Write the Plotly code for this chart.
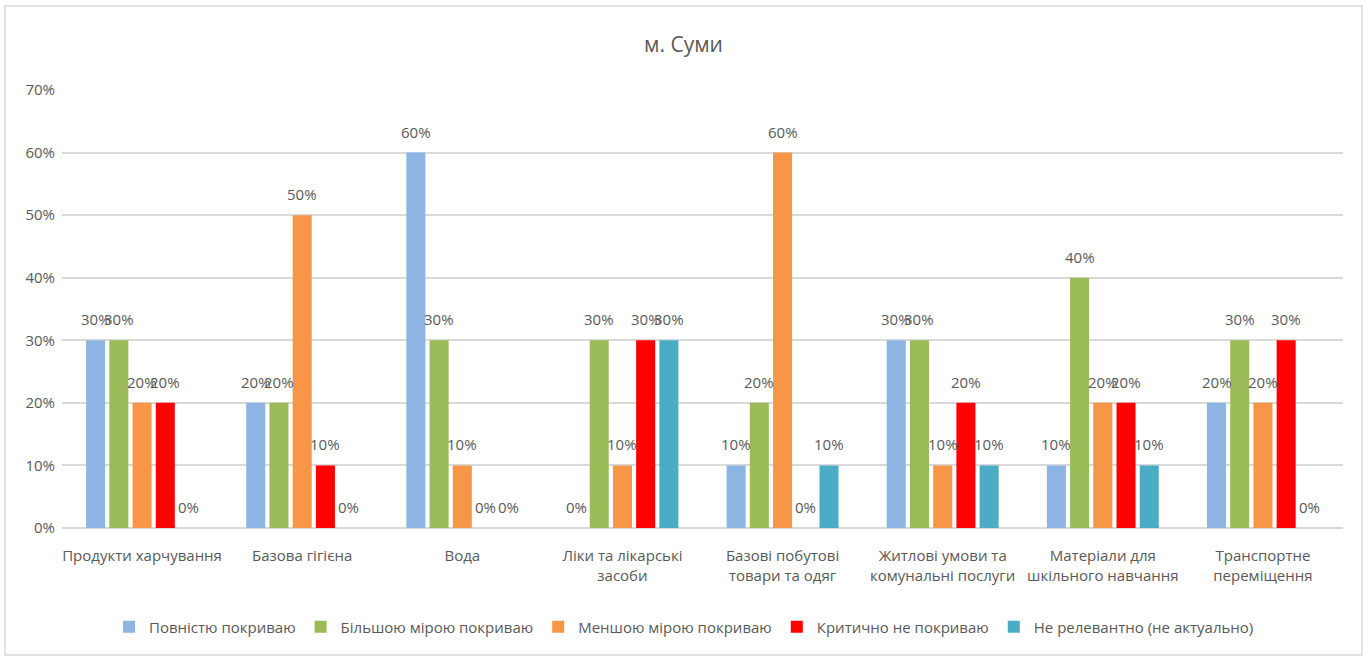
import plotly.graph_objects as go

categories = [
    "Продукти харчування",
    "Базова гігієна",
    "Вода",
    "Ліки та лікарські<br>засоби",
    "Базові побутові<br>товари та одяг",
    "Житлові умови та<br>комунальні послуги",
    "Матеріали для<br>шкільного навчання",
    "Транспортне<br>переміщення",
]

series_names = [
    "Повністю покриваю",
    "Більшою мірою покриваю",
    "Меншою мірою покриваю",
    "Критично не покриваю",
    "Не релевантно (не актуально)",
]

fully = [0.30, 0.20, 0.60, 0.00, 0.10, 0.30, 0.10, 0.20]
mostly = [0.30, 0.20, 0.30, 0.30, 0.20, 0.30, 0.40, 0.30]
less = [0.20, 0.50, 0.10, 0.10, 0.60, 0.10, 0.20, 0.20]
critical = [0.20, 0.10, 0.00, 0.30, 0.00, 0.20, 0.20, 0.30]
not_relevant = [0.00, 0.00, 0.00, 0.30, 0.10, 0.10, 0.10, 0.00]

colors = ["#8DB4E2", "#9BBB59", "#F79646", "#FF0000", "#4BACC6"]
FONT = "Open Sans, sans-serif"
TEXT = "#595959"

W, H = 1367, 657
M = {"l": 62, "r": 24, "t": 90, "b": 129}
BARGAP = 0.275
plot_w = W - M["l"] - M["r"]
plot_h = H - M["t"] - M["b"]

all_series = [fully, mostly, less, critical, not_relevant]
slot = plot_w / len(categories) * (1 - BARGAP) / len(all_series)

fig = go.Figure()
annotations = []
for i, (name, vals, color) in enumerate(zip(series_names, all_series, colors)):
    fig.add_trace(
        go.Bar(
            x=categories,
            y=vals,
            name=name,
            marker={"color": color, "line": {"width": 0}},
            hoverinfo="skip",
        )
    )
    # value labels sit a little higher than plotly's own outside text
    for cat, v in zip(categories, vals):
        annotations.append(
            {
                "x": cat,
                "y": v,
                "xref": "x",
                "yref": "y",
                "text": f"{v:.0%}",
                "showarrow": False,
                "yanchor": "bottom",
                "xanchor": "center",
                "xshift": (i - (len(all_series) - 1) / 2) * slot,
                "yshift": 9,
                "font": {"size": 15, "color": TEXT, "family": FONT},
            }
        )

fig.update_layout(
    width=W,
    height=H,
    barmode="group",
    bargap=BARGAP,
    bargroupgap=0.18,
    paper_bgcolor="white",
    plot_bgcolor="white",
    margin=M,
    font={"family": FONT, "color": TEXT, "size": 15},
    title={
        "text": "м. Суми",
        "x": 0.5,
        "xanchor": "center",
        "y": 1 - 45 / H,
        "yanchor": "middle",
        "font": {"size": 21, "color": TEXT, "family": FONT},
    },
    xaxis={
        "showgrid": False,
        "showline": False,
        "ticks": "",
        "tickfont": {"size": 15, "color": TEXT},
        "tickangle": 0,
        "ticklabelstandoff": 17,
    },
    yaxis={
        "range": [0, 0.7],
        "dtick": 0.1,
        "tickformat": ".0%",
        "showgrid": True,
        "gridcolor": "#D9D9D9",
        "gridwidth": 1.5,
        "zeroline": True,
        "zerolinecolor": "#D9D9D9",
        "zerolinewidth": 1.5,
        "tickfont": {"size": 15, "color": TEXT},
        "ticklabelstandoff": 6,
    },
    showlegend=True,
    legend={
        "orientation": "h",
        "x": (684 - M["l"]) / plot_w,
        "xanchor": "center",
        "y": (plot_h - (627 - M["t"])) / plot_h,
        "yanchor": "middle",
        "font": {"size": 15, "color": TEXT},
        "itemwidth": 30,
        "traceorder": "normal",
    },
    annotations=annotations,
    shapes=[
        {
            "type": "rect",
            "xref": "paper",
            "yref": "paper",
            "x0": (5 - M["l"]) / plot_w,
            "x1": (W - 5 - M["l"]) / plot_w,
            "y0": (plot_h - (H - 2 - M["t"])) / plot_h,
            "y1": (plot_h - (6 - M["t"])) / plot_h,
            "line": {"color": "#D9D9D9", "width": 1.5},
            "layer": "below",
        }
    ],
)

fig.write_html(
    "out.html",
    config={"displayModeBar": False},
    post_script="document.body.style.margin='0';",
)
